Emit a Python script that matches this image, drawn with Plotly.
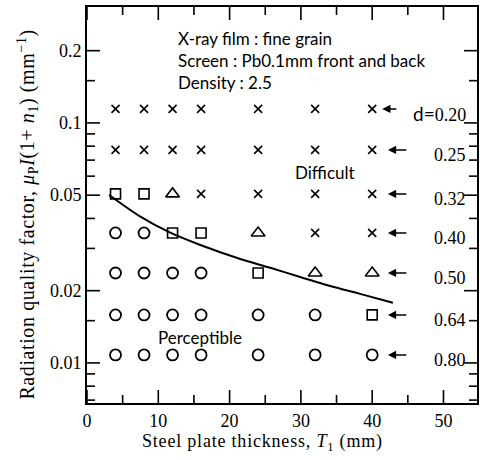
import math
import plotly.graph_objects as go

# ---- data ----
thickness = [4, 8, 12, 16, 24, 32, 40]                      # steel plate thickness T1 (mm)
wire_d = ["0.20", "0.25", "0.32", "0.40", "0.50", "0.64", "0.80"]   # wire diameter labels d
quality = [0.1144, 0.0772, 0.0506, 0.0348, 0.0237, 0.01585, 0.0108]  # radiation quality factor per row
# symbol per (row, thickness): x = not visible, t = triangle, s = square, o = circle
grid = [
    "xxxxxxx",
    "xxxxxxx",
    "sstxxxx",
    "oosstxx",
    "oooostt",
    "oooooos",
    "ooooooo",
]
curve_x = [3.1, 7.55, 11.75, 15.9, 21.5, 25.7, 29.9, 34.1, 38.3, 42.9]
curve_y = [0.0501, 0.0406, 0.0348, 0.0310, 0.0271, 0.0249, 0.0228, 0.0209, 0.0194, 0.0178]

x_ticks = [0, 10, 20, 30, 40, 50]
x_minor = [5, 15, 25, 35, 45]
y_ticks = [0.2, 0.1, 0.05, 0.02, 0.01]
y_tick_text = ["0.2", "0.1", "0.05", "0.02", "0.01"]
y_minor = [0.15, 0.09, 0.08, 0.07, 0.06, 0.04, 0.03, 0.015, 0.009, 0.008, 0.007]

SERIF = "Liberation Serif"
SANS = "Lato"

W, H = 480, 460
M = dict(l=87, r=3, t=7, b=57)
PW = W - M["l"] - M["r"]
PH = H - M["t"] - M["b"]
X_RANGE = [0, 54.7]
Y_RANGE = [-2.167, -0.517]   # log10 units
MAJ, MIN = 13, 8             # inward tick lengths in px

styles = {
    "x": dict(symbol="x-thin-open", size=8, line=dict(width=1.6, color="black")),
    "t": dict(symbol="triangle-up-open", size=12, line=dict(width=1.6, color="black")),
    "s": dict(symbol="square-open", size=10, line=dict(width=1.6, color="black")),
    "o": dict(symbol="circle-open", size=11, line=dict(width=1.8, color="black")),
}

fig = go.Figure()

# inward tick marks on all four sides, built from the tick arrays and the axis ranges
dx_per_px = (X_RANGE[1] - X_RANGE[0]) / PW
dy_per_px = (Y_RANGE[1] - Y_RANGE[0]) / PH
tx, ty = [], []
for vals, ln in ((x_ticks, MAJ), (x_minor, MIN)):
    for v in vals:
        lo0, lo1 = 10 ** Y_RANGE[0], 10 ** (Y_RANGE[0] + ln * dy_per_px)
        hi0, hi1 = 10 ** (Y_RANGE[1] - ln * dy_per_px), 10 ** Y_RANGE[1]
        tx += [v, v, None, v, v, None]
        ty += [lo0, lo1, None, hi0, hi1, None]
for vals, ln in ((y_ticks, MAJ), (y_minor, MIN)):
    for v in vals:
        tx += [X_RANGE[0], X_RANGE[0] + ln * dx_per_px, None, X_RANGE[1] - ln * dx_per_px, X_RANGE[1], None]
        ty += [v, v, None, v, v, None]
fig.add_trace(go.Scatter(x=tx, y=ty, mode="lines", line=dict(color="black", width=1.6),
                         connectgaps=False, showlegend=False, hoverinfo="skip", cliponaxis=False))

for code, st in styles.items():
    xs, ys = [], []
    for r, row in enumerate(grid):
        for c, ch in enumerate(row):
            if ch == code:
                xs.append(thickness[c])
                ys.append(quality[r])
    fig.add_trace(go.Scatter(x=xs, y=ys, mode="markers", marker=dict(color="black", **st),
                             showlegend=False, hoverinfo="skip"))

fig.add_trace(go.Scatter(x=curve_x, y=curve_y, mode="lines", line=dict(color="black", width=2),
                         line_shape="spline", line_smoothing=0.8, showlegend=False, hoverinfo="skip"))

ann = []
ann.append(dict(x=12.5, y=0.952, xref="x", yref="paper", xanchor="left", yanchor="top", align="left",
                showarrow=False,
                text="X-ray film : fine grain<br>Screen : Pb0.1mm front and back<br>Density : 2.5",
                font=dict(family=SANS, size=17, color="black")))
ann.append(dict(x=33.4, y=math.log10(0.0619), xref="x", yref="y", showarrow=False, text="Difficult",
                font=dict(family=SANS, size=17, color="black")))
ann.append(dict(x=15.9, y=math.log10(0.0128), xref="x", yref="y", showarrow=False, text="Perceptible",
                font=dict(family=SANS, size=17, color="black")))

for i, (d, q) in enumerate(zip(wire_d, quality)):
    ly = math.log10(q)
    if i == 0:
        tip, tail = 41.4, 43.6
    else:
        tip, tail = 42.2, 45.0
    ann.append(dict(x=tip, y=ly, ax=tail, ay=ly, xref="x", yref="y", axref="x", ayref="y",
                    text="", showarrow=True, arrowhead=2, arrowsize=1.1, arrowwidth=1.5,
                    arrowcolor="black", standoff=0, startstandoff=0))
    label = d if i else '<span style="font-family:Lato;font-size:19px">d=</span>' + d
    ann.append(dict(x=53.4, y=ly, xref="x", yref="y", xanchor="right", showarrow=False,
                    yshift=-5, text=label, font=dict(family=SERIF, size=18, color="black")))

ann.append(dict(x=-0.152, y=0.475, xref="paper", yref="paper", xanchor="center", yanchor="middle",
                textangle=-90, showarrow=False,
                text='<span style="letter-spacing:0.6px">Radiation quality factor, <i>μ</i><sub>P</sub>'
                     '<i>I</i>(1+ <i>n</i><sub>1</sub>) (mm<sup>−1</sup>)</span>',
                font=dict(family=SERIF, size=20, color="black")))
ann.append(dict(x=0.451, y=-0.101, xref="paper", yref="paper", xanchor="center", yanchor="middle",
                showarrow=False,
                text='<span style="letter-spacing:0.8px">Steel plate thickness, <i>T</i><sub>1</sub> (mm)</span>',
                font=dict(family=SERIF, size=18, color="black")))

fig.update_layout(
    template="none",
    width=W, height=H,
    margin=dict(**M, autoexpand=False),
    paper_bgcolor="white", plot_bgcolor="white",
    annotations=ann,
    font=dict(family=SERIF, color="black"),
)
fig.update_xaxes(
    range=X_RANGE, tickmode="array", tickvals=x_ticks, ticks="",
    showline=True, linecolor="black", linewidth=2, mirror=True,
    showgrid=False, zeroline=False, automargin=False, tickfont=dict(family=SERIF, size=18),
)
fig.update_yaxes(
    type="log", range=Y_RANGE, tickmode="array", tickvals=y_ticks, ticktext=y_tick_text,
    ticks="", showline=True, linecolor="black",
    linewidth=2, mirror=True, showgrid=False, zeroline=False, automargin=False,
    tickfont=dict(family=SERIF, size=18),
)

fig.write_html("out.html", config={"displayModeBar": False},
               post_script="document.body.style.margin='0px';")
